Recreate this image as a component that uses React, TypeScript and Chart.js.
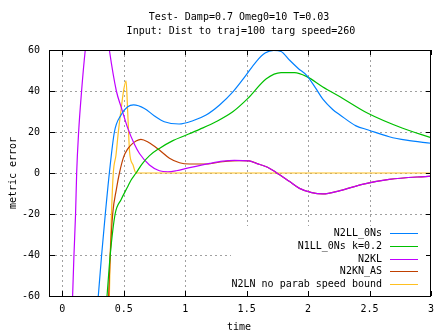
import React, { useEffect, useRef } from "react";
import { Chart, registerables } from "chart.js";

Chart.register(...registerables);

// ---------- text ----------
const titleLines = ["Test- Damp=0.7 Omeg0=10 T=0.03", "Input: Dist to traj=100 targ speed=260"];
const xAxisTitle = "time";
const yAxisTitle = "metric error";

// ---------- ticks ----------
const xTicks = [0, 0.5, 1, 1.5, 2, 2.5, 3];
const xTickLabels = ["0", "0.5", "1", "1.5", "2", "2.5", "3"];
const yTicks = [-60, -40, -20, 0, 20, 40, 60];
const yTickLabels = ["-60", "-40", "-20", "0", "20", "40", "60"];

// ---------- series ----------
const seriesNames = ["N2LL_0Ns", "N1LL_0Ns k=0.2", "N2KL", "N2KN_AS", "N2LN no parab speed bound"];
const seriesColors = ["#0080ff", "#00c000", "#c000ff", "#c04000", "#ffc020"];

const n2llT = [0.28, 0.293, 0.32, 0.35, 0.383, 0.424, 0.478, 0.532, 0.58, 0.668, 0.75, 0.83, 0.95, 1.062, 1.17, 1.28, 1.39, 1.48, 1.58, 1.65, 1.72, 1.78, 1.85, 1.92, 1.99, 2.06, 2.12, 2.2, 2.26, 2.39, 2.49, 2.66, 2.8, 3.0];
const n2llV = [-70, -60, -40, -20, 0, 20, 28.3, 32.3, 33.2, 31.5, 27.8, 25, 23.9, 25.5, 28.3, 33.2, 39.7, 46.5, 54.5, 58.5, 59.8, 59.3, 55, 51, 47.5, 41.5, 36, 31, 28.3, 23, 21, 17.7, 16, 14.5];

const n1llT = [0.35, 0.364, 0.39, 0.43, 0.478, 0.532, 0.56, 0.6, 0.65, 0.71, 0.79, 0.9, 1.0, 1.117, 1.25, 1.39, 1.51, 1.66, 1.78, 1.89, 1.99, 2.12, 2.26, 2.49, 2.77, 3.0];
const n1llV = [-70, -60, -40, -20, -13, -6.7, -3.4, 0, 4.5, 8.5, 12, 15.8, 18.3, 21.3, 25, 30, 36.4, 46, 49, 49, 47, 42, 37.2, 29, 21.8, 17.2];

const n2klT = [0.08, 0.084, 0.095, 0.108, 0.117, 0.133, 0.157, 0.187, 0.23, 0.29, 0.34, 0.383, 0.44, 0.48, 0.532, 0.587, 0.628, 0.709, 0.79, 0.86, 0.927, 1.035, 1.2, 1.306, 1.4, 1.52, 1.58, 1.67, 1.74, 1.85, 1.93, 2.03, 2.12, 2.26, 2.45, 2.66, 3.0];
const n2klV = [-70, -60, -40, -20, 0, 20, 40, 60, 80, 90, 80, 60, 40, 32, 22, 14, 9.5, 3.9, 1.1, 0.6, 1.1, 2.6, 4.7, 5.8, 6.2, 5.9, 4.7, 2.8, 0.3, -4.2, -7.5, -9.6, -10.2, -8.6, -5.4, -3.1, -1.5];

const n2knT = [0.37, 0.377, 0.39, 0.41, 0.44, 0.465, 0.5, 0.53, 0.56, 0.6, 0.64, 0.7, 0.79, 0.872, 0.954, 1.035, 1.17, 1.306, 1.44, 1.52, 1.58, 1.67, 1.74, 1.85, 1.93, 2.03, 2.12, 2.26, 2.45, 2.66, 3.0];
const n2knV = [-70, -60, -40, -20, -8, 0, 8, 11.5, 13.7, 15.6, 16.4, 15, 11.2, 7.2, 5, 4.4, 4.4, 5.5, 6, 5.9, 4.7, 2.8, 0.3, -4.2, -7.5, -9.6, -10.2, -8.6, -5.4, -3.1, -1.5];

const n2lnT = [0.378, 0.383, 0.39, 0.4, 0.415, 0.437, 0.456, 0.478, 0.5, 0.519, 0.532, 0.548, 0.575, 0.6, 3.0];
const n2lnV = [-70, -60, -40, -20, 0, 8.8, 20, 30.8, 40.6, 45, 30, 10, 4, 0, 0];

const seriesT = [n2llT, n1llT, n2klT, n2knT, n2lnT];
const seriesV = [n2llV, n1llV, n2klV, n2knV, n2lnV];

const FONT_FAMILY = '"DejaVu Sans Mono", "Liberation Mono", monospace';
const FONT = `10px ${FONT_FAMILY}`;

const decorPlugin = {
  id: "decor",
  beforeDatasetsDraw(chart: any) {
    const { ctx, chartArea: a, scales } = chart;
    const x = scales.x;
    const y = scales.y;
    ctx.save();
    ctx.strokeStyle = "#a0a0a0";
    ctx.lineWidth = 1;
    ctx.setLineDash([2, 3]);
    for (const v of xTicks) {
      const px = Math.round(x.getPixelForValue(v)) + 0.5;
      if (px <= a.left + 1 || px >= a.right - 1) continue;
      ctx.beginPath();
      ctx.moveTo(px, a.top);
      ctx.lineTo(px, a.bottom);
      ctx.stroke();
    }
    for (const v of yTicks) {
      const py = Math.round(y.getPixelForValue(v)) + 0.5;
      if (py <= a.top + 1 || py >= a.bottom - 1) continue;
      ctx.beginPath();
      ctx.moveTo(a.left, py);
      ctx.lineTo(a.right, py);
      ctx.stroke();
    }
    ctx.restore();
  },
  afterDatasetsDraw(chart: any) {
    const { ctx, chartArea: a, scales } = chart;
    const x = scales.x;
    const y = scales.y;
    ctx.save();
    ctx.setLineDash([]);
    // legend box (opaque)
    ctx.fillStyle = "#ffffff";
    ctx.fillRect(231, 226, a.right - 231, a.bottom - 226);
    ctx.font = FONT;
    ctx.textAlign = "right";
    ctx.textBaseline = "middle";
    seriesNames.forEach((name, i) => {
      const ry = 232.7 + i * 12.9;
      ctx.fillStyle = "#000";
      ctx.fillText(name, 382, ry + 0.5);
      ctx.fillStyle = seriesColors[i];
      ctx.fillRect(390, Math.round(ry), 28, 1);
    });
    // tick marks
    ctx.strokeStyle = "#000";
    ctx.lineWidth = 1;
    const tl = 5;
    for (const v of xTicks) {
      const px = Math.round(x.getPixelForValue(v)) + 0.5;
      ctx.beginPath();
      ctx.moveTo(px, a.bottom);
      ctx.lineTo(px, a.bottom - tl);
      ctx.moveTo(px, a.top);
      ctx.lineTo(px, a.top + tl);
      ctx.stroke();
    }
    for (const v of yTicks) {
      const py = Math.round(y.getPixelForValue(v)) + 0.5;
      ctx.beginPath();
      ctx.moveTo(a.left, py);
      ctx.lineTo(a.left + tl, py);
      ctx.moveTo(a.right, py);
      ctx.lineTo(a.right - tl, py);
      ctx.stroke();
    }
    // frame
    ctx.strokeRect(a.left - 0.5, a.top + 0.5, a.right - a.left, a.bottom - a.top);
    ctx.restore();
  },
  afterDraw(chart: any) {
    const { ctx, chartArea: a } = chart;
    ctx.save();
    ctx.fillStyle = "#000";
    ctx.font = FONT;
    ctx.textAlign = "center";
    ctx.textBaseline = "middle";
    ctx.fillText(titleLines[0], 239, 17.5);
    ctx.fillText(titleLines[1], 241, 31);
    ctx.fillText(xAxisTitle, 239, 327);
    ctx.translate(13.5, (a.top + a.bottom) / 2);
    ctx.rotate(-Math.PI / 2);
    ctx.fillText(yAxisTitle, 0, 0);
    ctx.restore();
  },
};

export default function App() {
  const canvasRef = useRef<HTMLCanvasElement | null>(null);

  useEffect(() => {
    document.body.style.margin = "0";
    const canvas = canvasRef.current;
    if (!canvas) return;
    const datasets = seriesNames.map((name, i) => ({
      label: name,
      data: seriesT[i].map((t, j) => ({ x: t, y: seriesV[i][j] })),
      borderColor: seriesColors[i],
      backgroundColor: seriesColors[i],
      borderWidth: 1.2,
      pointRadius: 0,
      fill: false,
      cubicInterpolationMode: "monotone" as const,
      clip: 0,
    }));
    const chart = new Chart(canvas, {
      type: "line",
      data: { datasets },
      options: {
        animation: false,
        responsive: false,
        devicePixelRatio: 1,
        events: [],
        layout: { padding: { top: 50, right: 16, left: 0, bottom: 0 } },
        plugins: {
          legend: { display: false },
          tooltip: { enabled: false },
          title: { display: false },
        },
        scales: {
          x: {
            type: "linear",
            min: -0.1,
            max: 3,
            grid: { display: false, drawTicks: false },
            border: { display: false },
            afterBuildTicks: (s: any) => {
              s.ticks = xTicks.map((v) => ({ value: v }));
            },
            afterFit: (s: any) => {
              s.height = 39;
            },
            ticks: {
              autoSkip: false,
              maxRotation: 0,
              padding: 7,
              color: "#000",
              font: { family: FONT_FAMILY, size: 10 },
              callback: (v: any) => {
                const i = xTicks.indexOf(Number(v));
                return i >= 0 ? xTickLabels[i] : "";
              },
            },
          },
          y: {
            type: "linear",
            min: -60,
            max: 60,
            grid: { display: false, drawTicks: false },
            border: { display: false },
            afterBuildTicks: (s: any) => {
              s.ticks = yTicks.map((v) => ({ value: v }));
            },
            afterFit: (s: any) => {
              s.width = 50;
            },
            ticks: {
              autoSkip: false,
              padding: 10,
              color: "#000",
              font: { family: FONT_FAMILY, size: 10 },
              callback: (v: any) => {
                const i = yTicks.indexOf(Number(v));
                return i >= 0 ? yTickLabels[i] : "";
              },
            },
          },
        },
      },
      plugins: [decorPlugin],
    });
    return () => chart.destroy();
  }, []);

  return (
    <div style={{ width: 447, height: 335 }}>
      <canvas ref={canvasRef} width={447} height={335} style={{ display: "block", width: 447, height: 335 }} />
    </div>
  );
}
